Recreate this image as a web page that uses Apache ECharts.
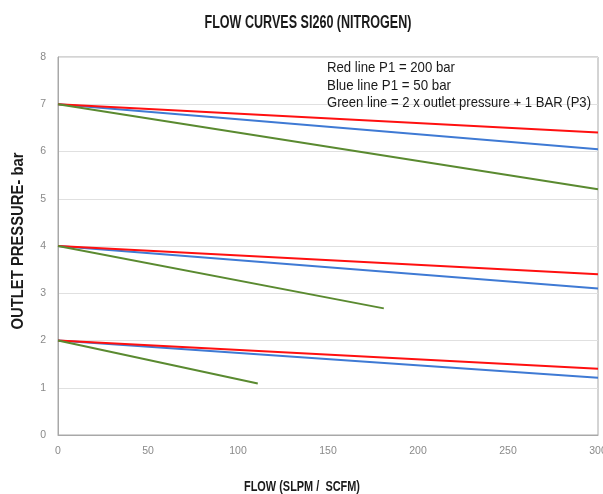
<!DOCTYPE html>
<html>
<head>
<meta charset="utf-8">
<script src="https://cdn.jsdelivr.net/npm/echarts@6/dist/echarts.min.js"></script>
<style>
html,body{margin:0;padding:0;background:#fff;}
#chart{width:603px;height:494px;}
</style>
</head>
<body>
<div id="chart"></div>
<script>
// Flow values (SLPM / SCFM)
const flowFull = [0, 300];
const flowMid = [0, 181];
const flowLow = [0, 111];

// Outlet pressure (bar)
const red7 = [7, 6.40];
const blue7 = [7, 6.05];
const green7 = [7, 5.20];
const red4 = [4, 3.40];
const blue4 = [4, 3.10];
const green4 = [4, 2.68];
const red2 = [2, 1.40];
const blue2 = [2, 1.21];
const green2 = [2, 1.09];

const xTicks = [0, 50, 100, 150, 200, 250, 300];
const yTicks = [0, 1, 2, 3, 4, 5, 6, 7, 8];

const titleText = 'FLOW CURVES SI260 (NITROGEN)';
const xName = 'FLOW (SLPM /  SCFM)';
const yName = 'OUTLET PRESSURE- bar';
const legendLines = [
  'Red line P1 = 200 bar',
  'Blue line P1 = 50 bar',
  'Green line = 2 x outlet pressure + 1 BAR (P3)'
];

const RED = '#ff1010', BLUE = '#3f7ad4', GREEN = '#5a8a30';
const FONT = "'Liberation Sans', Arial, sans-serif";

function pairs(xs, ys){ return xs.map((x,i)=>[x, ys[i]]); }

// text measuring to emulate a condensed typeface via horizontal scaling
const mctx = document.createElement('canvas').getContext('2d');
function measure(text, size, weight){
  mctx.font = (weight||'normal') + ' ' + size + 'px ' + FONT;
  return mctx.measureText(text).width;
}
function ctext(text, size, weight, w, x, y, align, rot){
  const s = w / measure(text, size, weight);
  return {
    type:'text', x:x, y:y, rotation: rot||0, scaleX:s, scaleY:1,
    style:{text:text, fontFamily:FONT, fontSize:size, fontWeight:weight||'normal',
      fill:'#1a1a1a', align:align||'left', verticalAlign:'middle'},
    z:10
  };
}

const curves = [
  {name:'Red 7', x:flowFull, y:red7, c:RED},
  {name:'Blue 7', x:flowFull, y:blue7, c:BLUE},
  {name:'Green 7', x:flowFull, y:green7, c:GREEN},
  {name:'Red 4', x:flowFull, y:red4, c:RED},
  {name:'Blue 4', x:flowFull, y:blue4, c:BLUE},
  {name:'Green 4', x:flowMid, y:green4, c:GREEN},
  {name:'Red 2', x:flowFull, y:red2, c:RED},
  {name:'Blue 2', x:flowFull, y:blue2, c:BLUE},
  {name:'Green 2', x:flowLow, y:green2, c:GREEN}
];

const graphics = [
  ctext(titleText, 18, 'bold', 207, 308, 23, 'center'),
  ctext(xName, 15, 'bold', 116, 302, 487, 'center'),
  ctext(yName, 16, 'bold', 177, 19, 241, 'center', Math.PI/2),
  ctext(legendLines[0], 15, 'normal', 128, 327, 68, 'left'),
  ctext(legendLines[1], 15, 'normal', 124, 327, 85.5, 'left'),
  ctext(legendLines[2], 15, 'normal', 264, 327, 103, 'left')
];

const chart = echarts.init(document.getElementById('chart'), null, {renderer:'canvas'});
chart.setOption({
  animation:false,
  backgroundColor:'#fff',
  grid:{left:58, right:5, top:57, bottom:59, show:true, borderColor:'#a8a8a8', borderWidth:1,
    outerBoundsMode:'none', containLabel:false},
  xAxis:{
    type:'value', min:xTicks[0], max:xTicks[xTicks.length-1], interval:50,
    axisLine:{show:true, lineStyle:{color:'#a8a8a8'}},
    axisTick:{show:false},
    splitLine:{show:false},
    axisLabel:{color:'#8a8a8a', fontSize:10.5, margin:11, fontFamily:FONT}
  },
  yAxis:{
    type:'value', min:yTicks[0], max:yTicks[yTicks.length-1], interval:1,
    axisLine:{show:true, lineStyle:{color:'#a8a8a8'}},
    axisTick:{show:false},
    splitLine:{show:true, lineStyle:{color:'#e0e0e0', width:1}},
    axisLabel:{color:'#8a8a8a', fontSize:10.5, margin:12, fontFamily:FONT}
  },
  graphic: graphics,
  series: curves.map(c=>({
    name:c.name, type:'line', data:pairs(c.x, c.y),
    showSymbol:false, symbol:'none',
    lineStyle:{color:c.c, width:2},
    z: c.c===RED ? 3 : (c.c===BLUE ? 2 : 4)
  }))
});
</script>
</body>
</html>
